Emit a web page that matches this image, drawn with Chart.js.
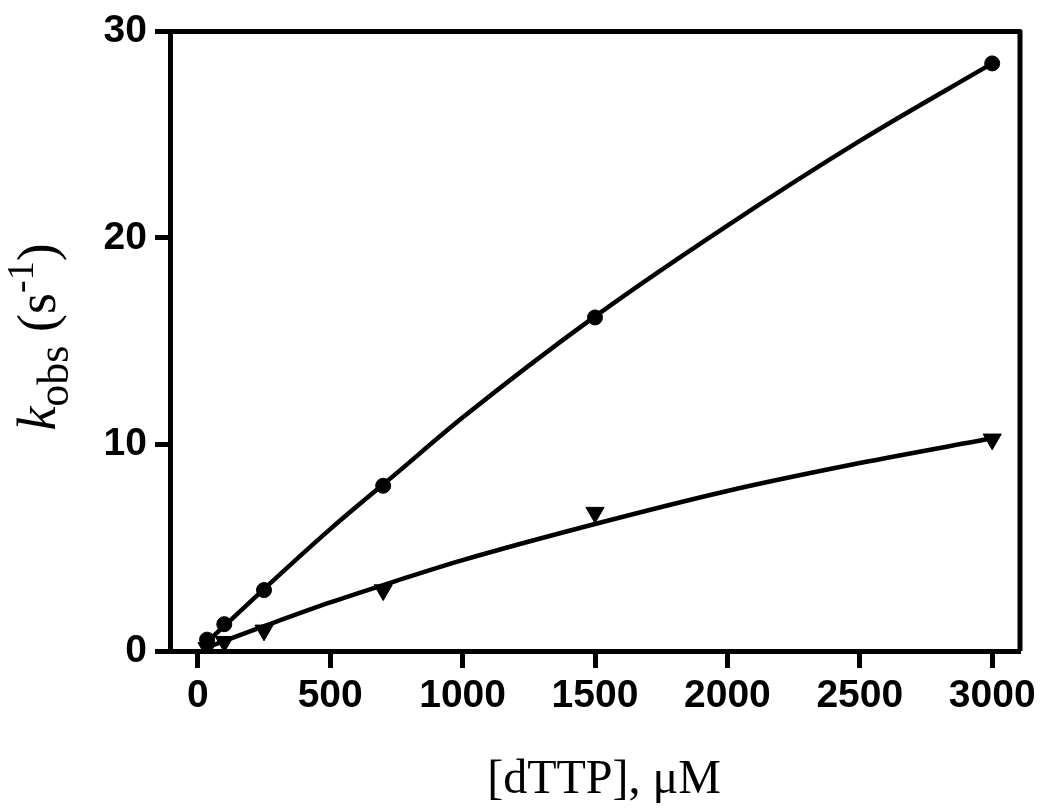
<!DOCTYPE html>
<html>
<head>
<meta charset="utf-8">
<script src="https://cdn.jsdelivr.net/npm/chart.js@4.4.0/dist/chart.umd.min.js"></script>
<style>
  html, body { margin: 0; padding: 0; background: #fff; }
</style>
</head>
<body>
<canvas id="chart" width="1050" height="812"></canvas>
<script>
// measured points
const dttp = [35, 100, 250, 700, 1500, 3000];
const kobsCircle = [0.55, 1.3, 2.95, 8.0, 16.15, 28.45];
const kobsTriangle = [0.15, 0.45, 1.0, 2.95, 6.7, 10.25];

// fitted curves
const fitX = [30, 250, 500, 750, 1000, 1500, 2000, 2500, 3000];
const fitCircle = [0.37, 3.0, 5.9, 8.6, 11.3, 16.2, 20.6, 24.7, 28.45];
const fitTriangle = [0.15, 1.2, 2.35, 3.4, 4.4, 6.15, 7.75, 9.1, 10.3];

const xTicks = [0, 500, 1000, 1500, 2000, 2500, 3000];
const yTicks = [0, 10, 20, 30];

const xTitle = '[dTTP], \u03BCM';

const sans = '"Liberation Sans", Arial, Helvetica, sans-serif';
const serif = '"Liberation Serif", "Times New Roman", serif';

const toXY = (xs, ys) => xs.map((x, i) => ({ x: x, y: ys[i] }));

// box top/right + axis titles
const framePlugin = {
  id: 'frame',
  afterDraw(chart) {
    const { ctx, chartArea: a } = chart;
    ctx.save();
    ctx.strokeStyle = '#000';
    ctx.lineWidth = 5;
    ctx.lineJoin = 'round';
    ctx.beginPath();
    ctx.moveTo(a.left, a.top);
    ctx.lineTo(a.right, a.top);
    ctx.lineTo(a.right, a.bottom);
    ctx.stroke();

    // x title
    ctx.fillStyle = '#000';
    ctx.font = '48px ' + serif;
    ctx.textAlign = 'center';
    ctx.textBaseline = 'alphabetic';
    ctx.fillText(xTitle, 604, 793);

    // y title: k_obs (s^-1)
    const parts = [
      { t: 'k', f: 'italic 54px ' + serif, dy: 0 },
      { t: 'obs', f: '44px ' + serif, dy: 13 },
      { t: ' (s', f: '54px ' + serif, dy: 0 },
      { t: '-1', f: '38px ' + serif, dy: -22 },
      { t: ')', f: '54px ' + serif, dy: 0 }
    ];
    let total = 0;
    parts.forEach(p => { ctx.font = p.f; p.w = ctx.measureText(p.t).width; total += p.w; });
    ctx.translate(55, 337);
    ctx.rotate(-Math.PI / 2);
    ctx.textAlign = 'left';
    let x = -total / 2;
    parts.forEach(p => {
      ctx.font = p.f;
      ctx.fillText(p.t, x, p.dy);
      x += p.w;
    });
    ctx.restore();
  }
};

new Chart(document.getElementById('chart'), {
  type: 'scatter',
  data: {
    datasets: [
      {
        data: toXY(dttp, kobsCircle),
        pointStyle: 'circle',
        pointRadius: 7.5,
        borderWidth: 1,
        backgroundColor: '#000',
        borderColor: '#000',
        order: 0
      },
      {
        data: toXY(dttp, kobsTriangle),
        pointStyle: 'triangle',
        rotation: 180,
        pointRadius: 10.5,
        borderWidth: 1,
        backgroundColor: '#000',
        borderColor: '#000',
        order: 0
      },
      {
        data: toXY(fitX, fitCircle),
        showLine: true,
        pointRadius: 0,
        borderColor: '#000',
        borderWidth: 4.5,
        cubicInterpolationMode: 'monotone',
        order: 1
      },
      {
        data: toXY(fitX, fitTriangle),
        showLine: true,
        pointRadius: 0,
        borderColor: '#000',
        borderWidth: 4.5,
        cubicInterpolationMode: 'monotone',
        order: 1
      }
    ]
  },
  options: {
    responsive: false,
    animation: false,
    layout: { padding: { top: 31, right: 30, left: 0, bottom: 0 } },
    plugins: {
      legend: { display: false },
      tooltip: { enabled: false }
    },
    scales: {
      x: {
        type: 'linear',
        min: -105,
        max: 3105,
        afterBuildTicks: s => { s.ticks = xTicks.map(v => ({ value: v })); },
        afterFit: s => { s.height = 161; },
        grid: { drawOnChartArea: false, drawTicks: true, tickLength: 17, tickWidth: 5, color: '#000' },
        border: { display: true, width: 5, color: '#000' },
        ticks: {
          color: '#000',
          padding: 5,
          maxRotation: 0,
          autoSkip: false,
          callback: v => String(v),
          font: { family: sans, size: 39, weight: 'bold' }
        }
      },
      y: {
        min: 0,
        max: 30,
        afterBuildTicks: s => { s.ticks = yTicks.map(v => ({ value: v })); },
        afterFit: s => { s.width = 170; },
        grid: { drawOnChartArea: false, drawTicks: true, tickLength: 15, tickWidth: 5, color: '#000' },
        border: { display: true, width: 5, color: '#000' },
        ticks: {
          color: '#000',
          padding: 8,
          callback: v => String(v),
          font: { family: sans, size: 39, weight: 'bold' }
        }
      }
    }
  },
  plugins: [framePlugin]
});
</script>
</body>
</html>
